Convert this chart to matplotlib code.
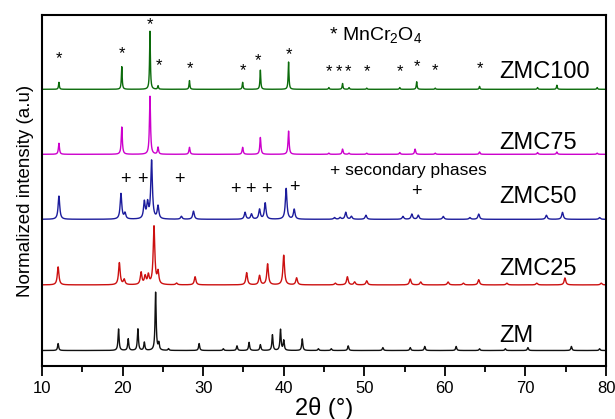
import numpy as np
import matplotlib
matplotlib.use("Agg")
import matplotlib.pyplot as plt

plt.rcParams['font.family'] = ['Liberation Sans', 'DejaVu Sans']
plt.rcParams['mathtext.default'] = 'regular'

# peak positions (2theta, deg) and relative heights (tallest = 100)
zmc100_pos = [12.1, 19.9, 23.4, 24.4, 28.3, 34.9, 37.1, 40.6, 45.6, 47.3, 48.1,
              50.3, 54.4, 56.5, 58.8, 64.3, 71.5, 73.9, 78.9]
zmc100_int = [12, 39, 100, 6, 15, 12, 33, 47, 3, 10, 3, 2, 3, 13, 2, 5, 3, 7, 3]

zmc75_pos = [12.1, 19.9, 23.4, 24.4, 28.3, 34.9, 37.1, 40.6, 45.6, 47.3, 48.1,
             50.3, 54.4, 56.3, 58.8, 64.3, 71.5, 73.9, 78.9]
zmc75_int = [19, 47, 100, 12, 12, 12, 29, 40, 2, 9, 2, 2, 3, 9, 2, 4, 3, 4, 2]

zmc50_pos = [12.1, 19.8, 20.3, 22.7, 23.1, 23.6, 24.4, 27.3, 28.8, 35.2, 36.0,
             37.0, 37.7, 40.3, 41.3, 46.3, 47.0, 47.7, 48.4, 50.2, 54.8, 55.9,
             56.7, 59.8, 63.1, 64.2, 72.6, 74.6, 79.2]
zmc50_int = [40, 44, 10, 29, 26, 100, 22, 5, 14, 12, 9, 17, 28, 53, 17, 3, 3,
             12, 5, 7, 5, 9, 7, 5, 3, 9, 7, 12, 3]

zmc25_pos = [12.0, 19.6, 20.2, 22.3, 22.8, 23.2, 23.9, 24.4, 26.7, 29.0, 35.4,
             37.0, 38.0, 40.0, 41.6, 46.4, 47.9, 48.8, 50.3, 55.7, 57.0, 60.4,
             62.3, 64.2, 67.7, 71.4, 74.9, 79.4]
zmc25_int = [31, 38, 9, 21, 14, 16, 100, 21, 3, 14, 21, 16, 36, 51, 12, 3, 14,
             5, 7, 10, 5, 5, 3, 9, 3, 3, 12, 3]

zm_pos = [12.0, 19.5, 20.7, 21.9, 22.7, 24.1, 24.5, 25.7, 29.5, 32.5, 34.2,
          35.7, 37.1, 38.6, 39.6, 40.0, 42.3, 44.3, 45.9, 48.0, 52.3, 55.7,
          57.5, 61.4, 64.3, 67.5, 70.3, 75.7, 79.2]
zm_int = [12, 37, 20, 37, 14, 100, 12, 3, 12, 3, 8, 14, 10, 27, 36, 17, 20, 3,
          3, 8, 5, 5, 7, 7, 3, 3, 5, 7, 3]

labels = ['ZMC100', 'ZMC75', 'ZMC50', 'ZMC25', 'ZM']

# MnCr2O4 marks (2theta, height) and secondary phase marks
star_x = [12.1, 19.9, 23.4, 24.5, 28.4, 34.9, 36.8, 40.6, 45.6, 46.9, 48.0,
          50.3, 54.4, 56.5, 58.8, 64.4]
star_y = [5.02, 5.12, 5.61, 4.90, 4.85, 4.82, 5.00, 5.10, 4.81, 4.81, 4.81,
          4.81, 4.81, 4.89, 4.82, 4.85]
plus_x = [20.4, 22.4, 27.0, 34.0, 35.8, 37.8, 41.3, 56.5]
plus_y = [2.94, 2.94, 2.94, 2.78, 2.78, 2.78, 2.80, 2.74]

samples = [
    (zmc100_pos, zmc100_int, 4.50, '#0b6b0b', 0.06),
    (zmc75_pos, zmc75_int, 3.38, '#cc00cc', 0.08),
    (zmc50_pos, zmc50_int, 2.26, '#1c1c9c', 0.12),
    (zmc25_pos, zmc25_int, 1.13, '#cc1010', 0.12),
    (zm_pos, zm_int, 0.0, '#111111', 0.08),
]
label_y = [4.80, 3.58, 2.65, 1.40, 0.25]

tt = np.linspace(10, 80, 7001)

fig = plt.figure(figsize=(6.15, 4.19), dpi=100)
ax = fig.add_axes([0.0683, 0.1265, 0.9171, 0.8377])

for (pos, inten, off, col, w), lab, ly in zip(samples, labels, label_y):
    y = np.zeros_like(tt)
    for p, h in zip(pos, inten):
        y += h / 100.0 / (1 + ((tt - p) / w) ** 2)
    ax.plot(tt, y + off, color=col, lw=1.0)
    ax.text(66.8, ly, lab, fontsize=17, ha='left', va='center')

for x, y in zip(star_x, star_y):
    ax.text(x, y, '*', fontsize=12, ha='center', va='center')
for x, y in zip(plus_x, plus_y):
    ax.text(x, y, '+', fontsize=13, ha='center', va='center')

ax.text(45.6, 5.44, '* MnCr$_2$O$_4$', fontsize=14, ha='left', va='center')
ax.text(45.7, 3.10, '+ secondary phases', fontsize=12.5, ha='left', va='center')

ax.set_xlim(10, 80)
ax.set_ylim(-0.267, 5.78)
ax.set_xticks(range(10, 81, 10))
ax.set_xticks(range(15, 80, 10), minor=True)
ax.set_yticks([])
ax.tick_params(axis='x', which='major', direction='out', length=7, width=1.3, labelsize=12)
ax.tick_params(axis='x', which='minor', direction='out', length=4, width=1.3)
for s in ax.spines.values():
    s.set_linewidth(1.5)

ax.set_xlabel('2θ (°)', fontsize=17, labelpad=1)
ax.set_ylabel('Normalized intensity (a.u)', fontsize=13.5, labelpad=6)

fig.savefig('out.png', dpi=100)
